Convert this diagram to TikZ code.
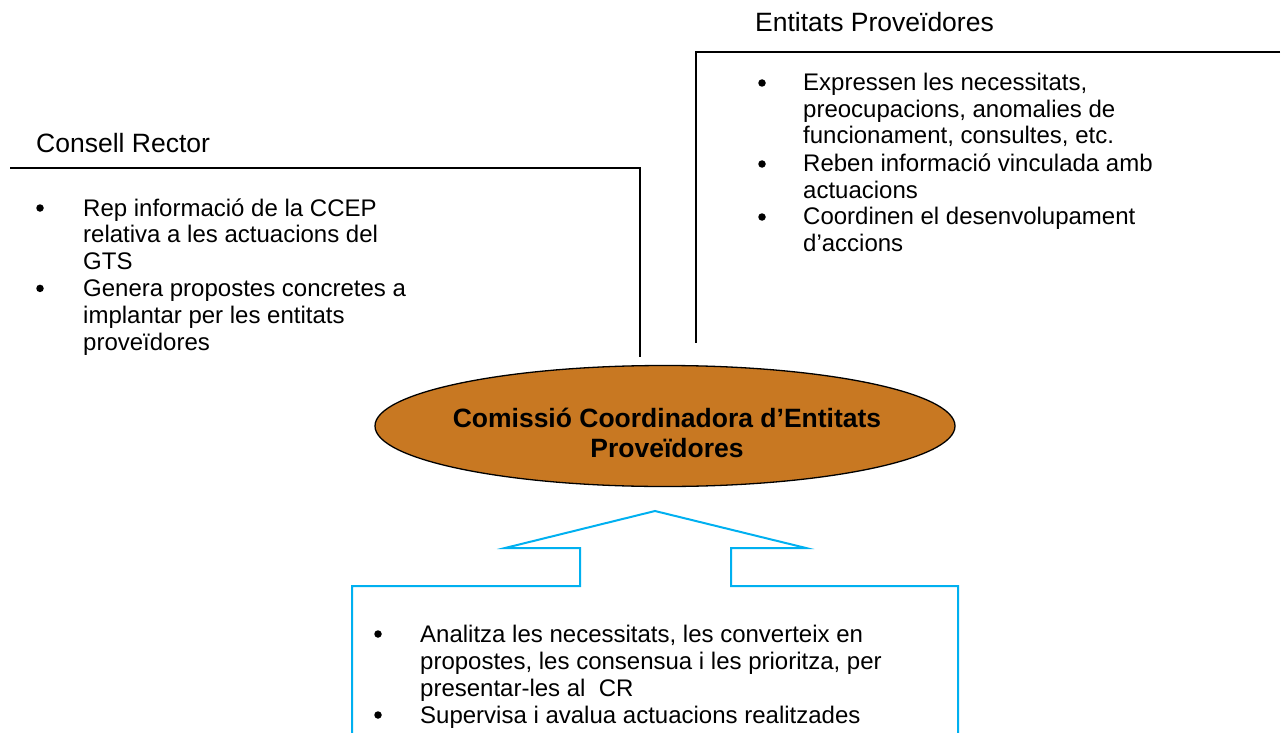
\documentclass[tikz,border=0pt]{standalone}
\usepackage{fontspec}
\setmainfont{Liberation Sans}
\usepackage{tikz}
\usetikzlibrary{positioning,shapes.geometric}

\definecolor{ccepfill}{RGB}{200,120,34}
\definecolor{ccepblue}{RGB}{0,176,240}

\tikzset{
  head/.style={font=\fontsize{26.5}{30}\selectfont, anchor=base west, inner sep=0pt},
  item/.style={font=\fontsize{24}{26.8}\selectfont, anchor=base west, inner sep=0pt, align=left},
  dot/.style={circle, fill=black, minimum size=7.5pt, inner sep=0pt},
  frame/.style={line width=1.3pt},
  bluearrow/.style={draw=ccepblue, line width=2pt, line join=miter}
}

\begin{document}
\begin{tikzpicture}[x=1pt,y=-1pt]
      \useasboundingbox (0,0) rectangle (1285,733);

      % Consell Rector
      \node[head] (cr) at (36,153) {Consell Rector};
      \coordinate (crl) at (10,168);
      \coordinate (crc) at (640,168);
      \coordinate (crb) at (640,357);
      \draw[frame] (crl) -- (crc) -- (crb);
      \node[dot] (crd1) at (40,208) {};
      \node[item] (cr1) at (83,269.6) {Rep informació de la CCEP\\relativa a les actuacions del\\GTS};
      \node[dot] (crd2) at (40,288.4) {};
      \node[item] (cr2) at (83,350) {Genera propostes concretes a\\implantar per les entitats\\proveïdores};

      % Entitats Proveidores
      \node[head] (ep) at (755,32) {Entitats Proveïdores};
      \coordinate (epl) at (696,52);
      \coordinate (epr) at (1280,52);
      \coordinate (epb) at (696,343);
      \draw[frame] (epr) -- (epl) -- (epb);
      \node[dot] (epd1) at (762,83) {};
      \node[item] (ep1) at (803,144) {Expressen les necessitats,\\preocupacions, anomalies de\\funcionament, consultes, etc.};
      \node[dot] (epd2) at (762,164) {};
      \node[item] (ep2) at (803,198) {Reben informació vinculada amb\\actuacions};
      \node[dot] (epd3) at (762,217) {};
      \node[item] (ep3) at (803,251) {Coordinen el desenvolupament\\d’accions};

      % CCEP
      \node[ellipse, draw, line width=1.3pt, fill=ccepfill, minimum width=580, minimum height=121] (ccep) at (665,426) {};
      \node[font=\bfseries\fontsize{26.5}{30}\selectfont, align=center, anchor=base, inner sep=0pt] (ccept) at (667,457)
            {Comissió Coordinadora d’Entitats\\Proveïdores};

      % block arrow
      \coordinate (tip) at (655,511);
      \draw[bluearrow] (352,733) -- (352,586) -- (580,586) -- (580,548) -- (505,548) -- (tip)
            -- (806,548) -- (731,548) -- (731,586) -- (958,586) -- (958,733);
      \node[dot] (gd1) at (378,634) {};
      \node[item] (g1) at (420,696) {Analitza les necessitats, les converteix en\\propostes, les consensua i les prioritza, per\\presentar-les al~~CR};
      \node[dot] (gd2) at (378,715) {};
      \node[item] (g2) at (420,723) {Supervisa i avalua actuacions realitzades};
\end{tikzpicture}
\end{document}
